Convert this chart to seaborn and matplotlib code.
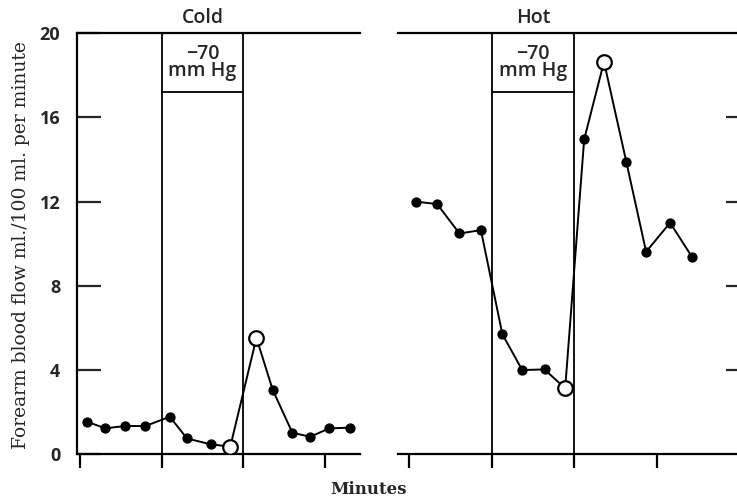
import matplotlib
matplotlib.use("Agg")
import matplotlib.pyplot as plt
import seaborn as sns
import pandas as pd

# readings (minutes from start, flow ml/100 ml per minute); open = hollow marker
cold_minutes = [0.45, 1.55, 2.75, 4.0, 5.5, 6.55, 8.0, 9.2, 10.8, 11.8, 13.0, 14.1, 15.25, 16.55]
cold_flow = [1.53, 1.22, 1.33, 1.33, 1.77, 0.74, 0.46, 0.35, 5.52, 3.04, 1.01, 0.82, 1.22, 1.25]
cold_open = [False] * 7 + [True, True] + [False] * 5

hot_minutes = [0.45, 1.7, 3.05, 4.35, 5.65, 6.85, 8.2, 9.45, 10.6, 11.8, 13.15, 14.35, 15.8, 17.15]
hot_flow = [11.99, 11.88, 10.48, 10.64, 5.69, 3.99, 4.02, 3.12, 14.95, 18.64, 13.89, 9.61, 10.99, 9.34]
hot_open = [False] * 7 + [True, False, True] + [False] * 4

suction_start, suction_end = 5, 10
suction_label = "\u221270\nmm Hg"
x_ticks = [0, 5, 10, 15]
y_ticks = [0, 4, 8, 12, 16, 20]

sns.set_style("ticks")
plt.rcParams["font.family"] = ["Open Sans", "DejaVu Sans"]

fig = plt.figure(figsize=(7.37, 5.01), dpi=100)
ax_cold = fig.add_axes([0.1045, 0.0938, 0.384, 0.840])
ax_hot = fig.add_axes([0.540, 0.0938, 0.462, 0.840])


def draw_panel(ax, minutes, flow, is_open, title, xlim):
    df = pd.DataFrame({"minutes": minutes, "flow": flow, "open": is_open})
    # connecting line first, then markers on top
    sns.lineplot(data=df, x="minutes", y="flow", color="black", linewidth=1.4,
                 estimator=None, sort=False, ax=ax, zorder=2)
    sns.scatterplot(data=df[~df["open"]], x="minutes", y="flow", color="black",
                    s=55, edgecolor="black", linewidth=0, ax=ax, zorder=3)
    sns.scatterplot(data=df[df["open"]], x="minutes", y="flow", color="white",
                    s=110, edgecolor="black", linewidth=1.6, ax=ax, zorder=4)

    for xv in (suction_start, suction_end):
        ax.axvline(xv, color="black", linewidth=1.3, zorder=1)
    ax.plot([suction_start, suction_end], [17.2, 17.2], color="black", linewidth=1.3)
    ax.text((suction_start + suction_end) / 2, 18.6, suction_label, ha="center",
            va="center", fontsize=14, fontweight="semibold", linespacing=0.85)
    ax.text((suction_start + suction_end) / 2, 20.25, title, ha="center",
            va="bottom", fontsize=14, fontweight="semibold")

    ax.set_xlim(*xlim)
    ax.set_ylim(0, 20)
    ax.set_xticks(x_ticks)
    ax.set_xticklabels([])
    ax.tick_params(axis="x", direction="out", length=10, width=1.6, color="black")
    ax.set_xlabel("")
    ax.set_ylabel("")
    for side in ("top", "bottom"):
        ax.spines[side].set_linewidth(1.6)
        ax.spines[side].set_color("black")


draw_panel(ax_cold, cold_minutes, cold_flow, cold_open, "Cold", (-0.18, 17.14))
draw_panel(ax_hot, hot_minutes, hot_flow, hot_open, "Hot", (-0.67, 19.94))

# cold panel: y axis on the left, ticks pointing inward
ax_cold.spines["right"].set_visible(False)
ax_cold.spines["left"].set_linewidth(1.6)
ax_cold.spines["left"].set_color("black")
ax_cold.set_yticks(y_ticks)
ax_cold.set_yticklabels([str(v) for v in y_ticks], fontsize=13, fontweight="bold")
ax_cold.tick_params(axis="y", direction="in", length=17, width=1.6, pad=12)

# hot panel: only short inward ticks on the right
ax_hot.spines["left"].set_visible(False)
ax_hot.spines["right"].set_visible(False)
ax_hot.set_yticks(y_ticks[1:-1])
ax_hot.yaxis.tick_right()
ax_hot.tick_params(axis="y", direction="in", length=9, width=1.6, labelright=False)

fig.text(0.028, 0.51, "Forearm blood flow ml./100 ml. per minute", rotation=90,
         ha="center", va="center", fontsize=13.5, family="DejaVu Serif")
fig.text(0.5, 0.022, "Minutes", ha="center", va="center", fontsize=12,
         fontweight="bold", family="DejaVu Serif")

fig.savefig("out.png", dpi=100, facecolor="white")
